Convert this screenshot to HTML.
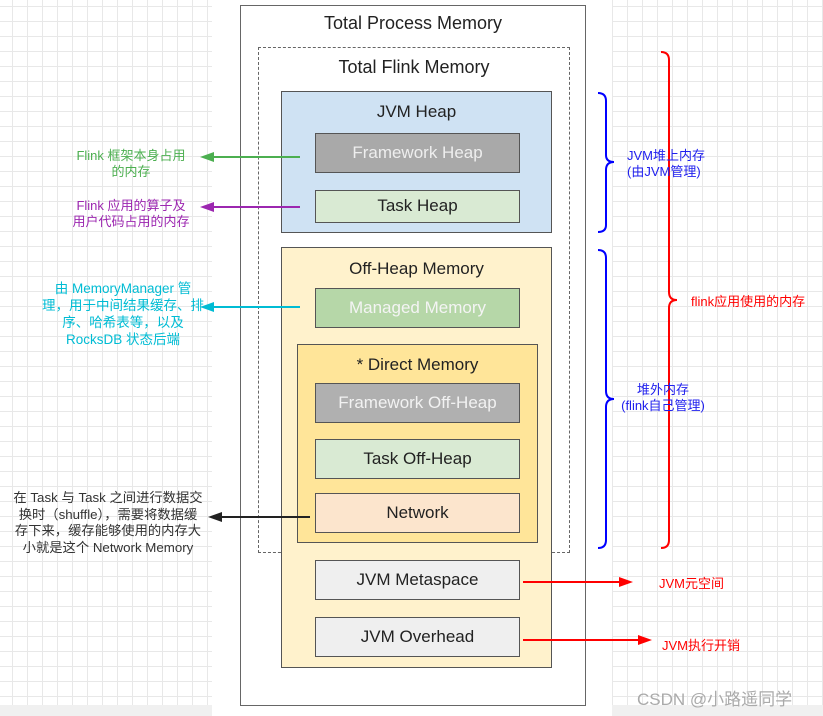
<!DOCTYPE html>
<html><head><meta charset="utf-8"><style>
html,body{margin:0;padding:0}
body{width:823px;height:716px;position:relative;overflow:hidden;background:#fff;font-family:"Liberation Sans","Noto Sans CJK SC",sans-serif}
.grid{position:absolute;background-color:#fff;background-image:linear-gradient(#e8e8e8 1px,transparent 1px),linear-gradient(90deg,#e8e8e8 1px,transparent 1px);background-size:15px 15px}
.b{position:absolute;box-sizing:border-box;border:1.5px solid #555;text-align:center;font-size:17px;color:#222}
.t{position:absolute;white-space:nowrap;font-size:13px}
</style></head><body>
<div class="grid" style="left:0;top:0;width:212px;height:705px;background-position:-3px 6px"></div>
<div class="grid" style="left:612px;top:0;width:211px;height:705px;background-position:0 6px"></div>
<div style="position:absolute;left:0;top:705px;width:212px;height:11px;background:#f0f0f0"></div>
<div style="position:absolute;left:612px;top:705px;width:211px;height:11px;background:#f0f0f0"></div>

<div class="b" style="left:240px;top:5px;width:346px;height:701px;border-color:#666;background:#fff"></div>
<div class="t" style="left:240px;width:346px;top:13px;text-align:center;font-size:18px;color:#222">Total Process Memory</div>
<div style="position:absolute;left:258px;top:47px;width:312px;height:506px;box-sizing:border-box;border:1.5px dashed #666"></div>
<div class="t" style="left:258px;width:312px;top:57px;text-align:center;font-size:18px;color:#222">Total Flink Memory</div>

<div class="b" style="left:281px;top:91px;width:271px;height:142px;background:#cfe2f3"><div style="margin-top:10px">JVM Heap</div></div>
<div class="b" style="left:315px;top:133px;width:205px;height:40px;background:#a9a9a9;color:#eee;line-height:37px">Framework Heap</div>
<div class="b" style="left:315px;top:190px;width:205px;height:33px;background:#d9ead3;line-height:30px">Task Heap</div>

<div class="b" style="left:281px;top:247px;width:271px;height:421px;background:#fff2cc"><div style="margin-top:11px">Off-Heap Memory</div></div>
<div class="b" style="left:315px;top:288px;width:205px;height:40px;background:#b6d7a8;color:#f4f4f4;line-height:37px">Managed Memory</div>
<div class="b" style="left:297px;top:344px;width:241px;height:199px;background:#ffe599"><div style="margin-top:10px">* Direct Memory</div></div>
<div class="b" style="left:315px;top:383px;width:205px;height:40px;background:#b0b0b0;color:#f2f2f2;line-height:37px">Framework Off-Heap</div>
<div class="b" style="left:315px;top:439px;width:205px;height:40px;background:#d9ead3;line-height:37px">Task Off-Heap</div>
<div class="b" style="left:315px;top:493px;width:205px;height:40px;background:#fce5cd;line-height:37px">Network</div>
<div class="b" style="left:315px;top:560px;width:205px;height:40px;background:#efefef;line-height:37px">JVM Metaspace</div>
<div class="b" style="left:315px;top:617px;width:205px;height:40px;background:#efefef;line-height:37px">JVM Overhead</div>

<svg width="823" height="716" style="position:absolute;left:0;top:0">
<g stroke-width="2" fill="none">
<line x1="300" y1="157" x2="210" y2="157" stroke="#4caf50"/><polygon points="200,157 214,152 214,162" fill="#4caf50" stroke="none"/>
<line x1="300" y1="207" x2="210" y2="207" stroke="#9c27b0"/><polygon points="200,207 214,202 214,212" fill="#9c27b0" stroke="none"/>
<line x1="300" y1="307" x2="210" y2="307" stroke="#00bcd4"/><polygon points="200,307 214,302 214,312" fill="#00bcd4" stroke="none"/>
<line x1="310" y1="517" x2="220" y2="517" stroke="#222"/><polygon points="208,517 222,512 222,522" fill="#222" stroke="none"/>
<line x1="523" y1="582" x2="622" y2="582" stroke="red"/><polygon points="633,582 619,577 619,587" fill="red" stroke="none"/>
<line x1="523" y1="640" x2="641" y2="640" stroke="red"/><polygon points="652,640 638,635 638,645" fill="red" stroke="none"/>
<path d="M598,93 Q606,93 606,101 L606,155 Q606,162 614,162 Q606,162 606,170 L606,225 Q606,232 598,232" stroke="#00f"/>
<path d="M598,250 Q606,250 606,258 L606,391 Q606,399 614,399 Q606,399 606,407 L606,540 Q606,548 598,548" stroke="#00f"/>
<path d="M661,52 Q669,52 669,60 L669,292 Q669,300 677,300 Q669,300 669,308 L669,540 Q669,548 661,548" stroke="red"/>
</g></svg>

<div class="t" style="left:46px;width:170px;top:148px;text-align:center;color:#4caf50;line-height:16px">Flink 框架本身占用<br>的内存</div>
<div class="t" style="left:46px;width:170px;top:198px;text-align:center;color:#9c27b0;line-height:16px">Flink 应用的算子及<br>用户代码占用的内存</div>
<div class="t" style="left:38px;width:170px;top:280px;text-align:center;color:#00bcd4;line-height:17px;font-size:13.5px">由 MemoryManager 管<br>理，用于中间结果缓存、排<br>序、哈希表等，以及<br>RocksDB 状态后端</div>
<div class="t" style="left:10px;width:196px;top:490px;text-align:center;color:#333;line-height:16.5px;font-size:13.3px">在 Task 与 Task 之间进行数据交<br>换时（shuffle），需要将数据缓<br>存下来，缓存能够使用的内存大<br>小就是这个 Network Memory</div>
<div class="t" style="left:627px;top:148px;color:#2020ee;line-height:16px">JVM堆上内存<br>(由JVM管理)</div>
<div class="t" style="left:617px;top:382px;width:92px;text-align:center;color:#2020ee;line-height:16px">堆外内存<br>(flink自己管理)</div>
<div class="t" style="left:691px;top:291px;color:red">flink应用使用的内存</div>
<div class="t" style="left:659px;top:573px;color:red">JVM元空间</div>
<div class="t" style="left:662px;top:635px;color:red">JVM执行开销</div>
<div class="t" style="left:637px;top:685px;color:#aaa;font-size:17px">CSDN @小路遥同学</div>
</body></html>
